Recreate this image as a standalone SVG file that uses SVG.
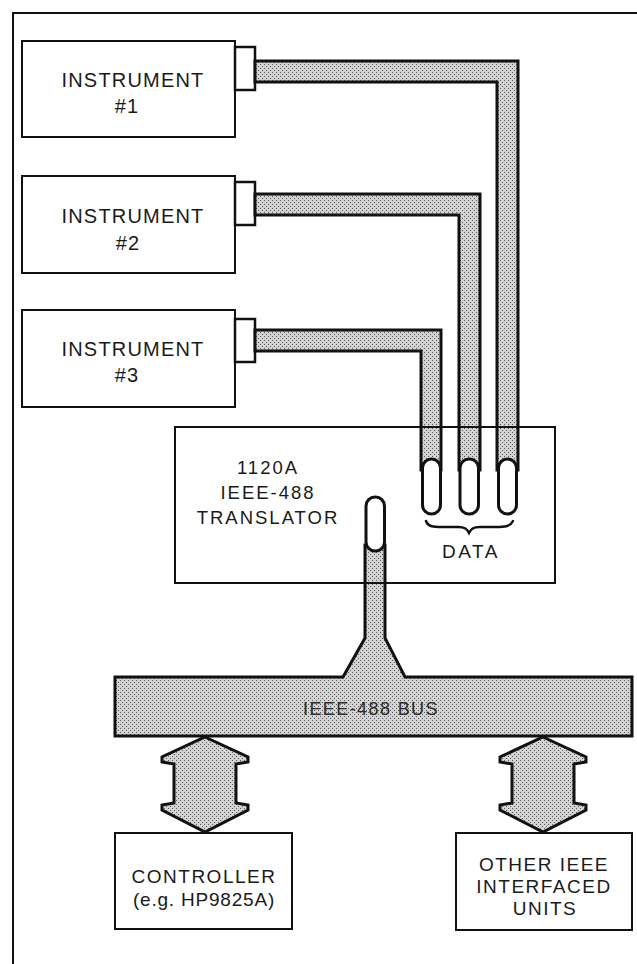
<svg xmlns="http://www.w3.org/2000/svg" width="637" height="964" viewBox="0 0 637 964">
<defs>
<pattern id="halftone" width="4" height="4" patternUnits="userSpaceOnUse">
<rect width="4" height="4" fill="#d3d3d3"/>
<rect x="0" y="0" width="1" height="1" fill="#5a5a5a"/>
<rect x="2" y="2" width="1" height="1" fill="#5a5a5a"/>
</pattern>
<style>
.frame{fill:none;stroke:#111;stroke-width:2}
.box{fill:#fff;stroke:#111;stroke-width:2}
.outline{fill:none;stroke:#111;stroke-width:2}
.stub{fill:#fff;stroke:#111;stroke-width:2.5}
.cable{fill:url(#halftone);stroke:#111;stroke-width:3;stroke-linejoin:miter}
.arrow{fill:url(#halftone);stroke:#111;stroke-width:3;stroke-linejoin:miter}
.plug{fill:#fff;stroke:#111;stroke-width:3}
.brace{fill:none;stroke:#111;stroke-width:2.5;stroke-linecap:round}
.lbl{font-family:"Liberation Sans",Arial,sans-serif;font-size:20px;fill:#1a1a1a;text-anchor:middle;letter-spacing:1.2px}
.tl{font-family:"Liberation Sans",Arial,sans-serif;font-size:18.5px;fill:#1a1a1a;text-anchor:middle;letter-spacing:2px}
.sm{font-family:"Liberation Sans",Arial,sans-serif;font-size:19px;fill:#1a1a1a;text-anchor:middle;letter-spacing:1.5px}
.bus{font-family:"Liberation Sans",Arial,sans-serif;font-size:18px;fill:#2a2a2a;text-anchor:middle;letter-spacing:1.4px}
</style>
</defs>
<rect width="637" height="964" fill="#fff"/>
<path class="frame" d="M13,964 V13 H637"/>

<g id="instrument1">
<rect class="box" x="22" y="41" width="213" height="96"/>
<rect class="stub" x="235" y="47" width="20" height="43"/>
<text class="lbl" x="133" y="87">INSTRUMENT</text>
<text class="lbl" x="127" y="113">#1</text>
</g>
<g id="instrument2">
<rect class="box" x="22" y="176" width="213" height="97"/>
<rect class="stub" x="235" y="182" width="20" height="43"/>
<text class="lbl" x="133" y="223">INSTRUMENT</text>
<text class="lbl" x="128" y="250">#2</text>
</g>
<g id="instrument3">
<rect class="box" x="22" y="310" width="213" height="97"/>
<rect class="stub" x="235" y="319" width="20" height="43"/>
<text class="lbl" x="133" y="356">INSTRUMENT</text>
<text class="lbl" x="127" y="382">#3</text>
</g>

<g id="connectors">
<path class="cable" d="M255,61 H518 V470 H497 V82 H255 Z"/>
<path class="cable" d="M255,194 H480 V470 H459 V215 H255 Z"/>
<path class="cable" d="M255,330 H441 V470 H421 V351 H255 Z"/>
<path class="arrow" d="M205,737 L248,757 L248,762 L236,764 L236,803 L248,805 L248,810 L205,832 L162,810 L162,805 L174,803 L174,764 L162,762 L162,757 Z"/>
<path class="arrow" d="M543,737 L586,757 L586,762 L574,764 L574,803 L586,805 L586,810 L543,832 L500,810 L500,805 L512,803 L512,764 L500,762 L500,757 Z"/>
</g>

<g id="bus">
<path class="cable" stroke-width="2.5" d="M115,677 H343 L365,638 V545 H385 V638 L405,677 H632 V736 H115 Z"/>
<text class="bus" x="371" y="715">IEEE-488 BUS</text>
</g>

<g id="translator">
<rect class="outline" x="175" y="427" width="380" height="156"/>
<text class="tl" x="268" y="474">1120A</text>
<text class="tl" x="268" y="499">IEEE-488</text>
<text class="tl" x="268" y="524">TRANSLATOR</text>
<rect class="plug" x="422.5" y="459" width="18" height="55" rx="9"/>
<rect class="plug" x="460" y="459" width="18.5" height="55" rx="9"/>
<rect class="plug" x="498.5" y="459" width="18" height="55" rx="9"/>
<rect class="plug" x="366" y="497" width="18.5" height="54" rx="9"/>
<path class="brace" d="M426,521 C428,527 434,527 442,527 L458,527 C465,527 467,529 469,533 C471,529 473,527 480,527 L496,527 C504,527 510,527 513,521"/>
<text class="sm" x="471" y="558" style="letter-spacing:2.5px">DATA</text>
</g>

<g id="controller">
<rect class="box" x="115" y="833" width="177" height="96"/>
<text class="sm" x="204" y="883">CONTROLLER</text>
<text class="sm" x="204" y="906" style="letter-spacing:0.8px">(e.g. HP9825A)</text>
</g>

<g id="other">
<rect class="box" x="456" y="833" width="176" height="97"/>
<text class="sm" x="544" y="871">OTHER IEEE</text>
<text class="sm" x="544" y="893">INTERFACED</text>
<text class="sm" x="545" y="915">UNITS</text>
</g>
</svg>
